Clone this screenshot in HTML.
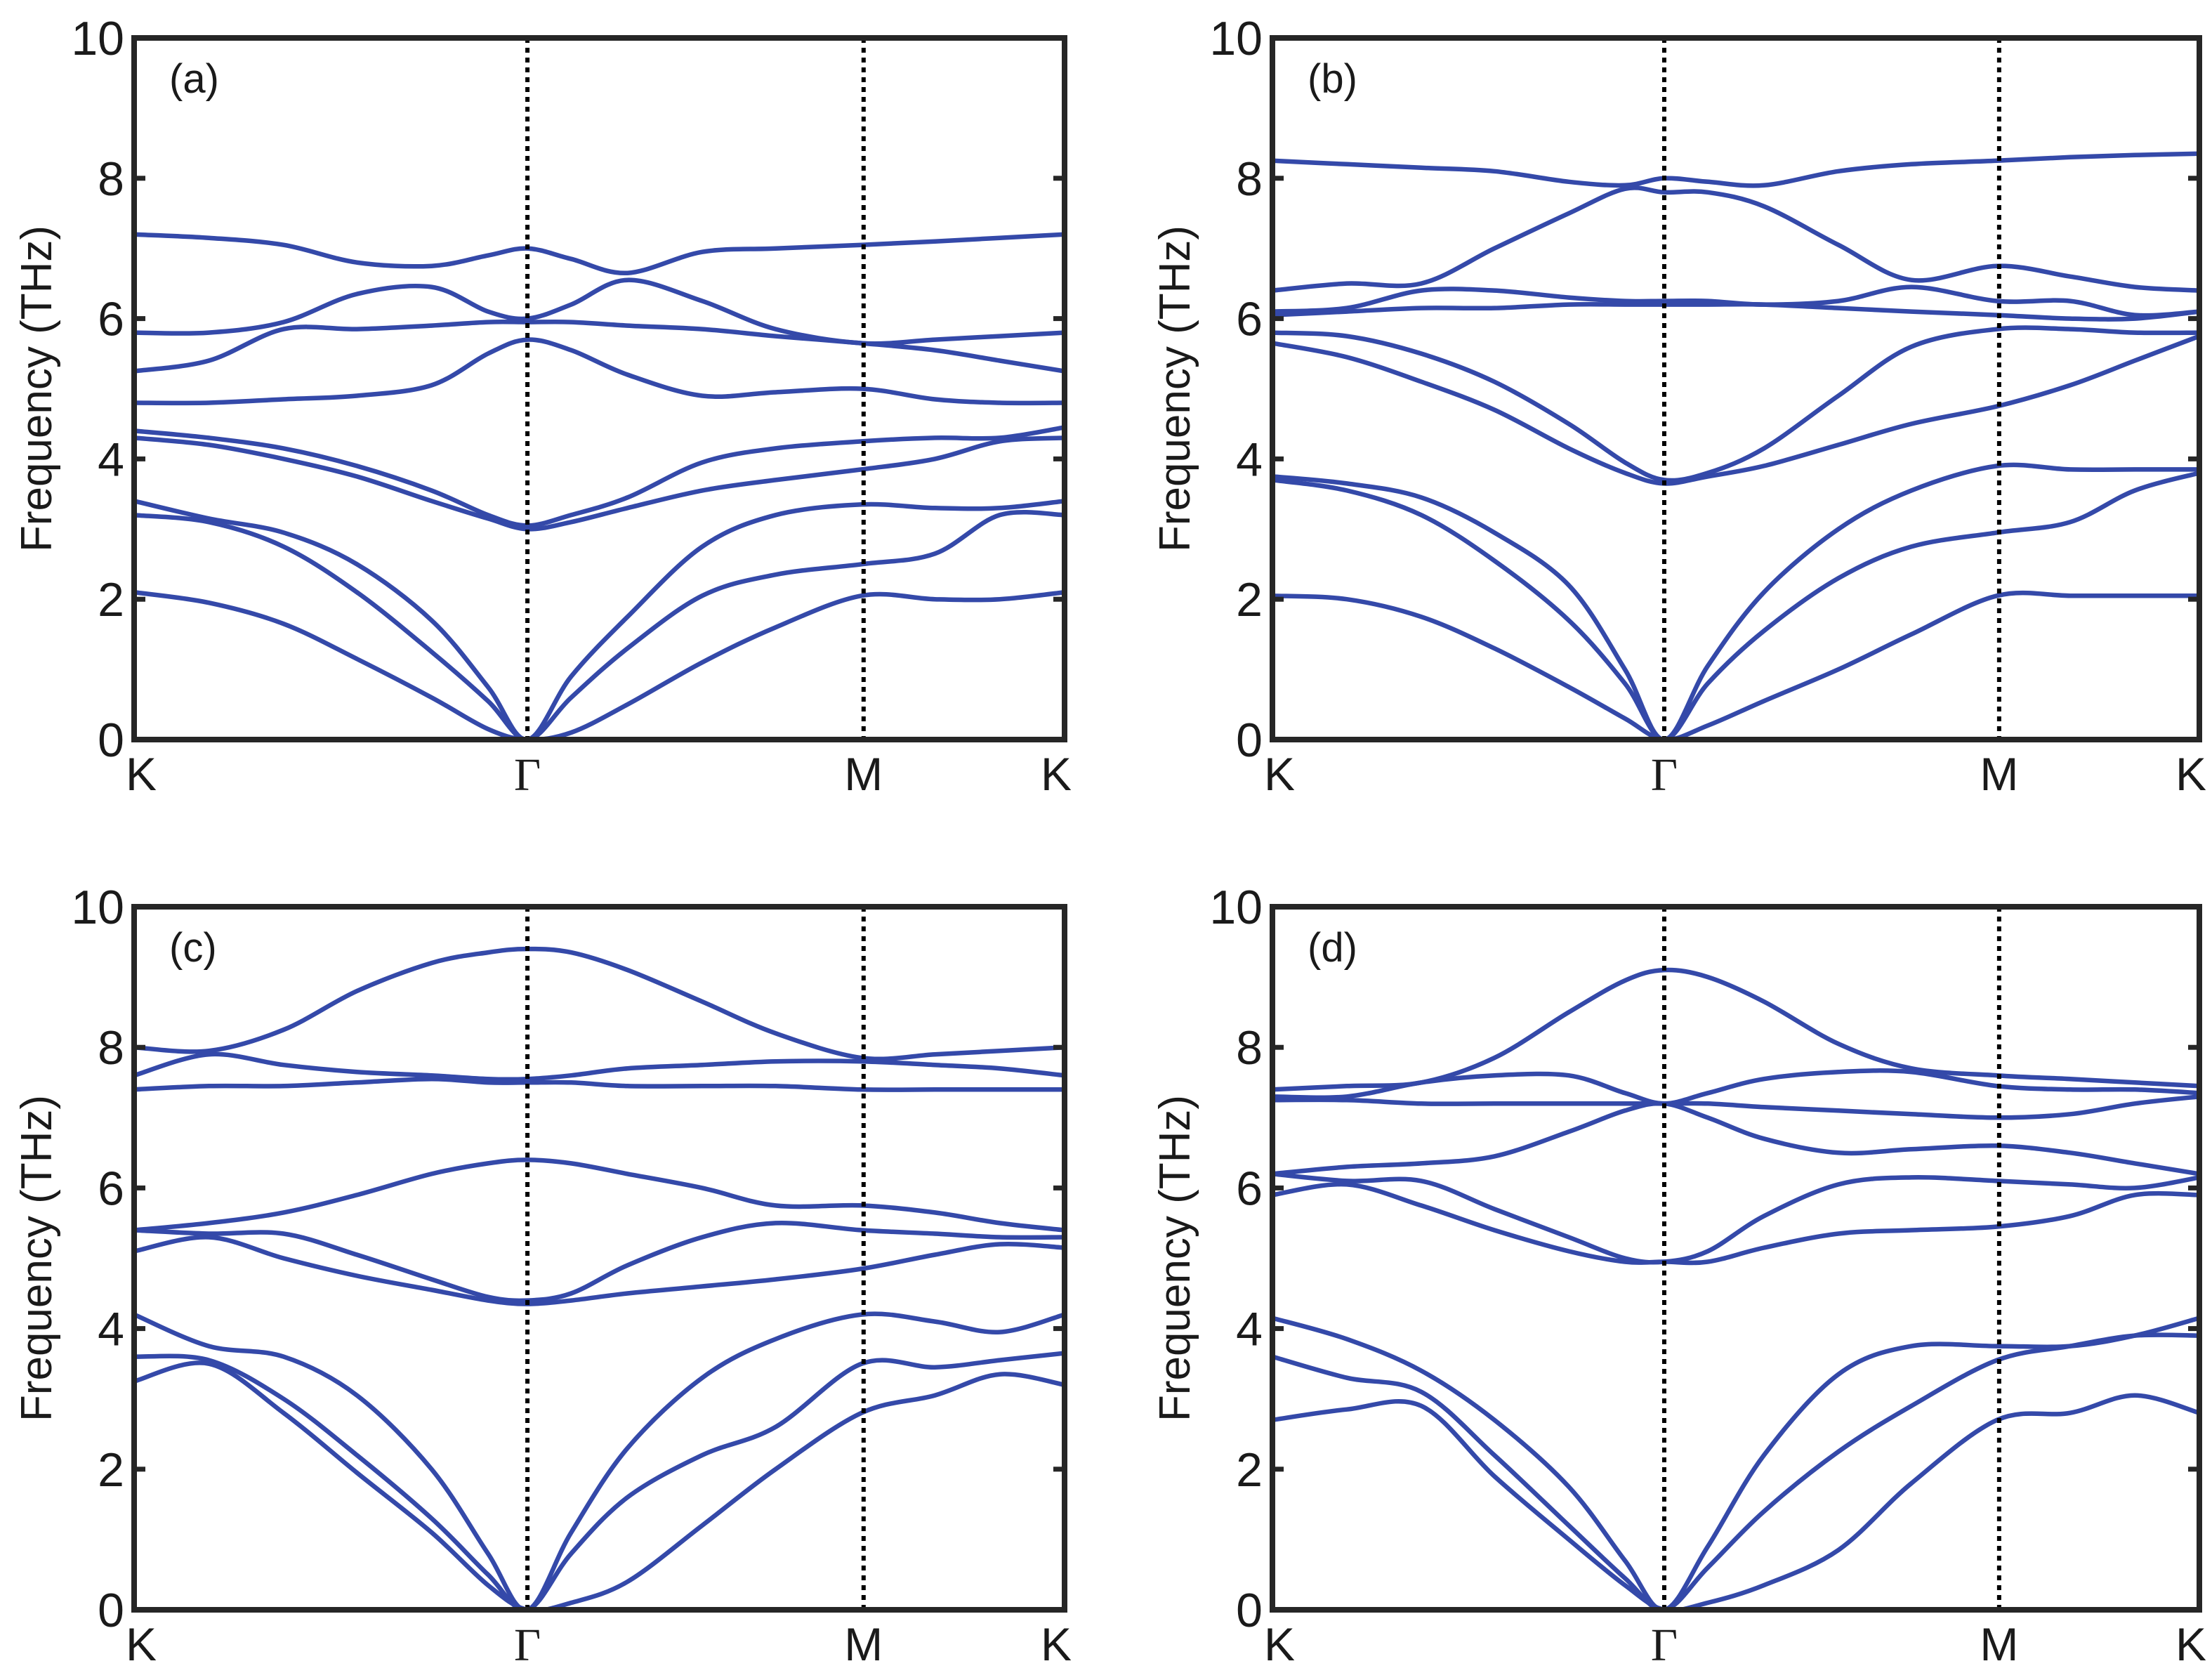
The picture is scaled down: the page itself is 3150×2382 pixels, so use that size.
<!DOCTYPE html>
<html><head><meta charset="utf-8">
<style>
html,body{margin:0;padding:0;background:#fff;}
svg{display:block;}
text{font-family:"Liberation Sans",sans-serif;fill:#1a1a1a;}
</style></head>
<body>
<svg id="fig" width="3150" height="2382" viewBox="0 0 3150 2382" xmlns="http://www.w3.org/2000/svg"></svg>
<script>
// shared k-path sample positions (fraction along K-Γ-M-K)
const kpath = [0, .0803, .1606, .2394, .3197, .3803, .4227, .4697, .5303, .6106, .6894, .7818, .8606, .9303, 1];
const yTicks = [0, 2, 4, 6, 8, 10];
const xLabels = ["K", "Γ", "M", "K"];
const xLabelPos = [0, 0.4227, 0.784, 1];
// band energies (THz), one row per k sample, sorted ascending
const bandsA = [
[2.1,3.2,3.4,4.3,4.4,4.8,5.25,5.8,7.2],
[1.95,3.1,3.15,4.2,4.3,4.8,5.4,5.8,7.15],
[1.65,2.75,2.95,4.0,4.15,4.85,5.85,5.95,7.05],
[1.15,2.1,2.5,3.75,3.9,4.9,5.85,6.35,6.8],
[0.6,1.25,1.7,3.4,3.55,5.05,5.9,6.45,6.75],
[0.15,0.55,0.75,3.15,3.2,5.5,5.95,6.1,6.9],
[0,0,0,3.0,3.05,5.7,5.95,6.0,7.0],
[0.1,0.6,0.9,3.1,3.2,5.55,5.95,6.2,6.85],
[0.5,1.3,1.75,3.3,3.45,5.2,5.9,6.55,6.65],
[1.1,2.05,2.75,3.55,3.95,4.9,5.85,6.25,6.95],
[1.6,2.35,3.2,3.7,4.15,4.95,5.75,5.85,7.0],
[2.05,2.5,3.35,3.85,4.25,5.0,5.65,5.65,7.05],
[2.0,2.65,3.3,4.0,4.3,4.85,5.55,5.7,7.1],
[2.0,3.2,3.3,4.25,4.3,4.8,5.4,5.75,7.15],
[2.1,3.2,3.4,4.3,4.45,4.8,5.25,5.8,7.2]];
const bandsB = [
[2.05,3.7,3.75,5.65,5.8,6.05,6.1,6.4,8.25],
[2.0,3.55,3.65,5.45,5.75,6.1,6.15,6.5,8.2],
[1.75,3.2,3.45,5.1,5.5,6.15,6.4,6.5,8.15],
[1.3,2.55,2.95,4.7,5.1,6.15,6.4,7.0,8.1],
[0.75,1.7,2.2,4.15,4.5,6.2,6.3,7.5,7.95],
[0.3,0.8,1.0,3.8,3.95,6.2,6.25,7.85,7.9],
[0,0,0,3.65,3.7,6.2,6.25,7.8,8.0],
[0.2,0.8,1.05,3.75,3.8,6.2,6.25,7.8,7.95],
[0.55,1.55,2.1,3.9,4.15,6.2,6.2,7.6,7.9],
[1.0,2.3,3.0,4.2,4.9,6.15,6.25,7.05,8.1],
[1.5,2.75,3.55,4.5,5.6,6.1,6.45,6.55,8.2],
[2.05,2.95,3.9,4.75,5.85,6.05,6.25,6.75,8.25],
[2.05,3.1,3.85,5.05,5.85,6.0,6.25,6.6,8.3],
[2.05,3.55,3.85,5.4,5.8,6.0,6.05,6.45,8.33],
[2.05,3.8,3.85,5.75,5.8,6.1,6.1,6.4,8.35]];
const bandsC = [
[3.25,3.6,4.2,5.1,5.4,5.4,7.4,7.6,8.0],
[3.5,3.55,3.75,5.3,5.35,5.5,7.45,7.9,7.95],
[2.8,3.0,3.6,5.0,5.35,5.65,7.45,7.75,8.25],
[1.95,2.2,3.05,4.75,5.05,5.9,7.5,7.65,8.8],
[1.1,1.3,2.0,4.55,4.7,6.2,7.55,7.6,9.2],
[0.35,0.5,0.8,4.4,4.45,6.35,7.5,7.55,9.35],
[0,0,0,4.35,4.4,6.4,7.5,7.55,9.4],
[0.1,0.8,1.1,4.4,4.5,6.35,7.5,7.6,9.35],
[0.4,1.6,2.3,4.5,4.9,6.2,7.45,7.7,9.1],
[1.2,2.2,3.3,4.6,5.3,6.0,7.45,7.75,8.65],
[2.0,2.6,3.85,4.7,5.5,5.75,7.45,7.8,8.2],
[2.8,3.5,4.2,4.85,5.4,5.75,7.4,7.8,7.85],
[3.05,3.45,4.1,5.05,5.35,5.65,7.4,7.75,7.9],
[3.35,3.55,3.95,5.2,5.3,5.5,7.4,7.7,7.95],
[3.2,3.65,4.2,5.15,5.3,5.4,7.4,7.6,8.0]];
const bandsD = [
[2.7,3.6,4.15,5.9,6.2,6.2,7.25,7.3,7.4],
[2.85,3.3,3.85,6.05,6.1,6.3,7.25,7.3,7.45],
[2.9,3.1,3.4,5.75,6.1,6.35,7.2,7.5,7.5],
[1.9,2.2,2.7,5.4,5.7,6.45,7.2,7.6,7.85],
[1.0,1.2,1.75,5.1,5.3,6.8,7.2,7.6,8.5],
[0.35,0.45,0.7,4.95,5.0,7.1,7.2,7.35,8.95],
[0,0,0,4.95,4.95,7.2,7.2,7.2,9.1],
[0.1,0.6,0.9,4.95,5.1,7.0,7.2,7.35,9.0],
[0.35,1.4,2.2,5.15,5.6,6.7,7.15,7.55,8.65],
[0.85,2.25,3.35,5.35,6.05,6.5,7.1,7.65,8.05],
[1.8,2.9,3.75,5.4,6.15,6.55,7.05,7.65,7.7],
[2.7,3.55,3.75,5.45,6.1,6.6,7.0,7.45,7.6],
[2.8,3.75,3.75,5.6,6.05,6.5,7.05,7.4,7.55],
[3.05,3.9,3.9,5.9,6.0,6.35,7.2,7.4,7.5],
[2.8,3.9,4.15,5.9,6.15,6.2,7.3,7.35,7.45]];
const panelLabels = ["(a)","(b)","(c)","(d)"];

const NS = "http://www.w3.org/2000/svg";
const svg = document.getElementById('fig');
function mk(tag, attrs, parent){
  const e = document.createElementNS(NS, tag);
  for (const k in attrs) e.setAttribute(k, attrs[k]);
  (parent||svg).appendChild(e); return e;
}
const panels = [
  {L:191,R:1516,T:54,B:1053,data:bandsA},
  {L:1812,R:3132,T:54,B:1053,data:bandsB},
  {L:191,R:1516,T:1291,B:2292,data:bandsC},
  {L:1812,R:3132,T:1291,B:2292,data:bandsD}];

function spline(pts){
  let d = "M"+pts[0][0].toFixed(1)+","+pts[0][1].toFixed(1);
  for (let i=0;i<pts.length-1;i++){
    const p0=pts[Math.max(0,i-1)], p1=pts[i], p2=pts[i+1], p3=pts[Math.min(pts.length-1,i+2)];
    let c1x=p1[0]+(p2[0]-p0[0])/6, c1y=p1[1]+(p2[1]-p0[1])/6;
    let c2x=p2[0]-(p3[0]-p1[0])/6, c2y=p2[1]-(p3[1]-p1[1])/6;
    d += " C"+c1x.toFixed(1)+","+c1y.toFixed(1)+" "+c2x.toFixed(1)+","+c2y.toFixed(1)+" "+p2[0].toFixed(1)+","+p2[1].toFixed(1);
  }
  return d;
}
const defs = mk('defs', {});

panels.forEach((p, pi) => {
  const g = mk('g', {});
  
  
  const W = p.R - p.L, H = p.B - p.T;
  const xs = u => p.L + u*W;
  const ys = v => p.B - v/10*H;
  const cp = mk('clipPath', {id:'clip'+pi}, defs);
  mk('rect', {x:p.L, y:p.T, width:W, height:H}, cp);
  const bg = mk('g', {'clip-path':'url(#clip'+pi+')'}, g);
  
  
  const nb = p.data[0].length;
  for (let b=0;b<nb;b++){
    const pts = kpath.map((u,i)=>[xs(u), ys(p.data[i][b])]);
    const path = mk('path', {d:spline(pts), fill:'none', stroke:'#3449a9', 'stroke-width':6.5, 'stroke-linejoin':'round','stroke-linecap':'round'}, bg);
    
    
  }
  [1,2].forEach(j => {
    const l = mk('line', {x1:xs(xLabelPos[j]), x2:xs(xLabelPos[j]), y1:p.T, y2:p.B, stroke:'#000', 'stroke-width':6, 'stroke-dasharray':'7 7'}, g);
    
    
  });
  const fr = mk('rect', {x:p.L, y:p.T, width:W, height:H, fill:'none', stroke:'#262626', 'stroke-width':8}, g);
  
  
  yTicks.forEach(t => {
    const y = ys(t);
    mk('line', {x1:p.L, x2:p.L+16, y1:y, y2:y, stroke:'#262626','stroke-width':7}, g);
    mk('line', {x1:p.R, x2:p.R-16, y1:y, y2:y, stroke:'#262626','stroke-width':7}, g);
    const tx = mk('text', {x:p.L-14, y:y+24, 'text-anchor':'end', 'font-size':68}, g);
    tx.textContent = t;
    
    
  });
  xLabels.forEach((s, j) => {
    let x = xs(xLabelPos[j]);
    if (j === 0) x += 10;
    if (j === 3) x -= 12;
    const tx = mk('text', {x:x, y:p.B+72, 'text-anchor':'middle', 'font-size':66}, g);
    if (s === "Γ") tx.setAttribute('style', 'font-family:"Liberation Serif",serif');
    tx.textContent = s;
    
    
  });
  const cy = (p.T+p.B)/2, cx = p.L - 118;
  const yt = mk('text', {x:cx, y:cy, 'text-anchor':'middle', 'font-size':62, transform:'rotate(-90 '+cx+' '+cy+')'}, g);
  yt.textContent = "Frequency (THz)";
  
  
  const pl = mk('text', {x:p.L+50, y:p.T+78, 'font-size':58}, g);
  pl.textContent = panelLabels[pi];
  
  
});
</script>
</body></html>
